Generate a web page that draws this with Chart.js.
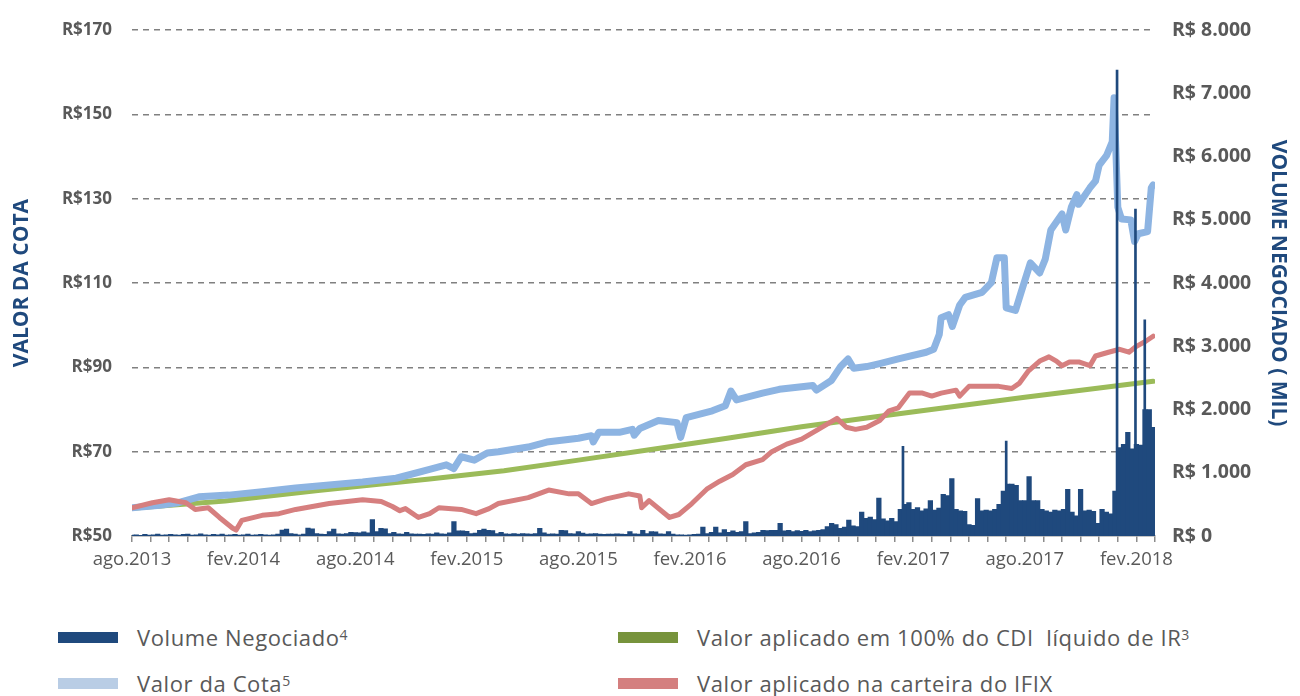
<!DOCTYPE html>
<html>
<head>
<meta charset="utf-8">
<script src="https://cdn.jsdelivr.net/npm/chart.js@4"></script>
<style>
  body { margin: 0; background: #fff; width: 1300px; height: 696px; overflow: hidden; position: relative; font-family: "Open Sans", sans-serif; }
  #chart { position: absolute; left: 0; top: 0; }
  .leg { position: absolute; display: flex; align-items: center; height: 30px; color: #595959; font-size: 22px; letter-spacing: 0.6px; white-space: nowrap; }
  .leg i { display: inline-block; width: 60px; height: 11px; margin-right: 19px; }
  .leg sup { font-size: 14px; position: relative; top: -3px; letter-spacing: 0; }
</style>
</head>
<body>
<canvas id="chart" width="1300" height="610"></canvas>
<div class="leg" style="left:58px;top:622px"><i style="background:#1f497d"></i>Volume Negociado<sup>4</sup></div>
<div class="leg" style="left:58px;top:668px"><i style="background:#b9cde5"></i>Valor da Cota<sup>5</sup></div>
<div class="leg" style="left:618px;top:622px"><i style="background:#77933c"></i>Valor aplicado em 100% do CDI&nbsp; líquido de IR<sup>3</sup></div>
<div class="leg" style="left:618px;top:668px"><i style="background:#d47f7f"></i>Valor aplicado na carteira do IFIX</div>
<script>
// months counted from ago.2013
const xLabels = ['ago.2013', 'fev.2014', 'ago.2014', 'fev.2015', 'ago.2015',
                 'fev.2016', 'ago.2016', 'fev.2017', 'ago.2017', 'fev.2018'];

// weekly traded volume, R$ mil
const volumeMil = [
  15, 20, 10, 25, 15, 20, 30, 15, 20, 25,
  20, 15, 25, 30, 15, 20, 35, 20, 15, 25,
  20, 30, 15, 20, 25, 15, 20, 30, 15, 20,
  25, 20, 15, 20, 30, 95, 110, 40, 30, 20,
  30, 125, 115, 40, 30, 25, 70, 110, 35, 30,
  40, 60, 55, 50, 65, 50, 260, 70, 120, 115,
  40, 60, 35, 30, 60, 35, 30, 30, 25, 35,
  30, 50, 35, 30, 50, 230, 80, 80, 75, 40,
  45, 90, 110, 90, 85, 40, 60, 35, 30, 40,
  30, 40, 35, 30, 40, 120, 50, 30, 35, 30,
  90, 85, 40, 35, 70, 45, 30, 35, 40, 30,
  25, 30, 30, 35, 30, 25, 70, 35, 30, 90,
  40, 70, 65, 35, 30, 70, 30, 20, 20, 15,
  20, 25, 30, 140, 40, 60, 140, 50, 100, 60,
  80, 60, 70, 230, 40, 50, 60, 90, 85, 90,
  90, 200, 80, 90, 70, 85, 75, 90, 70, 80,
  90, 100, 150, 200, 180, 120, 140, 250, 160, 150,
  380, 280, 300, 260, 600, 270, 240, 280, 230, 420,
  500, 530, 420, 450, 400, 430, 560, 410, 440, 660,
  640, 910, 420, 400, 390, 180, 170, 590, 400, 410,
  400, 420, 500, 710, 820, 820, 800, 560, 560, 940,
  560, 560, 420, 400, 380, 410, 400, 420, 740, 380,
  320, 740, 400, 410, 390, 200, 420, 380, 350, 710,
  1400, 1450, 1640, 1380, 1450, 1440, 2000, 2000, 1720
];

// single-day peaks of volume
const spikeMonths = [41.45, 47.0, 52.96, 53.95, 54.45];
const spikeMil = [1420, 1500, 7370, 5170, 3420];

const cotaMonths = [0, 1.5, 2.5, 3.6, 5.2, 7, 8.8, 10.6, 12.4, 14.2, 16, 16.9, 17.3, 17.7, 18.4, 19.1,
  19.7, 21.3, 22.3, 24, 24.7, 24.8, 25.1, 26.2, 26.9, 27, 27.3, 28.3, 29.3, 29.5, 29.8, 31.2,
  31.9, 32.2, 32.5, 33.9, 34.8, 36.6, 36.8, 37.6, 38.1, 38.5, 38.8, 39.5, 40.2, 41.2, 42.7,
  43.1, 43.4, 43.5, 43.9, 44.1, 44.5, 44.8, 45.7, 46.2, 46.5, 46.9, 47, 47.5, 47.8, 48.3,
  48.8, 49.1, 49.4, 50, 50.2, 50.5, 50.8, 50.9, 51.5, 51.8, 52, 52.4, 52.7, 52.8, 53, 53.2,
  53.7, 53.9, 54.1, 54.6, 54.8, 54.9];
const cotaValues = [56.7, 57.3, 57.9, 59.3, 59.7, 60.5, 61.4, 62.1, 62.8, 63.7, 65.8, 66.9, 66, 68.8, 68, 69.7,
  70, 71.1, 72.3, 73.2, 73.8, 72.3, 74.6, 74.6, 75.3, 73.9, 75.5, 77.4, 76.9, 73.4, 78.1, 79.7,
  80.9, 84.4, 82.3, 83.9, 84.8, 85.7, 84.6, 86.9, 90.2, 92, 89.8, 90.2, 90.9, 92, 93.6,
  94.3, 97.8, 101.8, 102.5, 99.7, 104.8, 106.6, 107.8, 110.1, 116, 116, 104.1, 103.5, 107.8, 114.8,
  112.4, 115.7, 122.6, 126.4, 122.6, 128, 131, 128.7, 132.6, 134.2, 138, 140.3, 143.5, 154, 128, 125.2,
  125, 119.9, 121.7, 122.2, 132.6, 133.3];

const ifixMonths = [0, 1.1, 2, 2.9, 3.4, 4.1, 4.7, 5.4, 5.6, 5.9, 7, 7.9, 8.8, 10.6, 12.4, 13.4, 14,
  14.4, 14.7, 15.4, 16, 16.5, 17.7, 18.5, 19.2, 19.7, 21.3, 22.4, 23.5, 24, 24.7, 25.5, 26.7,
  27.3, 27.4, 27.8, 28.9, 29.4, 30.1, 30.9, 31.6, 32.3, 33, 33.9, 34.4, 35.2, 36, 36.9, 37.9,
  38.4, 38.9, 39.5, 40.2, 40.7, 41.2, 41.8, 42.5, 43, 43.5, 44.3, 44.5, 45, 46.6, 47.3, 47.7,
  48.2, 48.8, 49.3, 49.7, 50, 50.4, 50.9, 51.5, 51.8, 52.5, 53.1, 53.6, 54, 54.5, 54.9];
const ifixValues = [56.7, 57.9, 58.6, 57.9, 56.3, 56.7, 54.4, 51.9, 51.4, 53.7, 54.9, 55.3, 56.3, 57.7, 58.6, 58.2, 57,
  56, 56.5, 54.4, 55.3, 56.7, 56.3, 55.3, 56.5, 57.7, 59.1, 60.9, 60, 60, 57.7, 58.8, 60,
  59.5, 56.7, 58.4, 54.4, 55.1, 57.7, 61.1, 63, 64.6, 66.9, 68.1, 70, 71.8, 73, 75.3, 77.9,
  75.8, 75.3, 75.8, 77.4, 79.7, 80.4, 83.9, 83.9, 83.2, 83.9, 84.6, 83.2, 85.5, 85.5, 85, 86.2,
  89.2, 91.5, 92.5, 91.5, 90.4, 91.3, 91.3, 90.4, 92.7, 93.6, 94.3, 93.6, 95, 96.2, 97.4];

const cdiMonths = [0, 5, 10, 16, 20, 24, 28, 32, 36, 40, 44, 48, 52, 54.9];
const cdiValues = [56.6, 58.3, 60.8, 63.5, 65.5, 68, 70.6, 73.2, 75.9, 78.3, 80.6, 82.9, 85.1, 86.7];

const WEEK = 12 / 52;
const FONT = '"Open Sans", sans-serif';
const toPoints = (xs, ys) => xs.map((x, i) => ({ x: x, y: ys[i] }));
const thousands = v => String(v).replace(/\B(?=(\d{3})+(?!\d))/g, '.');

new Chart(document.getElementById('chart'), {
  type: 'line',
  data: {
    datasets: [{
      type: 'bar',
      label: 'Volume Negociado',
      data: volumeMil.map((v, k) => ({ x: k * WEEK, y: v })),
      yAxisID: 'y1',
      backgroundColor: '#1f497d',
      borderWidth: 0,
      barThickness: 4.6,
      grouped: false,
      order: 0
    }, {
      type: 'bar',
      label: 'Volume Negociado (picos)',
      data: toPoints(spikeMonths, spikeMil),
      yAxisID: 'y1',
      backgroundColor: '#1f497d',
      borderWidth: 0,
      barThickness: 2,
      grouped: false,
      order: 0
    }, {
      label: 'Valor aplicado na carteira do IFIX',
      data: toPoints(ifixMonths, ifixValues),
      borderColor: '#d67f7f',
      borderWidth: 5,
      order: 1
    }, {
      label: 'Valor da Cota',
      data: toPoints(cotaMonths, cotaValues),
      borderColor: '#8db4e2',
      borderWidth: 7,
      order: 2
    }, {
      label: 'Valor aplicado em 100% do CDI líquido de IR',
      data: toPoints(cdiMonths, cdiValues),
      borderColor: '#9bbb59',
      borderWidth: 5,
      order: 3
    }]
  },
  options: {
    responsive: false,
    animation: false,
    layout: { padding: { top: 19 } },
    elements: {
      point: { radius: 0 },
      line: { tension: 0, borderJoinStyle: 'round', borderCapStyle: 'round' }
    },
    plugins: { legend: { display: false }, tooltip: { enabled: false } },
    scales: {
      x: {
        type: 'linear',
        min: 0,
        max: 55,
        offset: false,
        afterFit: s => { s.height = 74; },
        afterBuildTicks: s => { s.ticks = Array.from({ length: 56 }, (_, i) => ({ value: i })); },
        grid: { drawOnChartArea: false, tickLength: 6, color: '#8c8c8c', lineWidth: 1.5, offset: false },
        border: { color: '#8c8c8c', width: 1.5 },
        ticks: {
          autoSkip: false,
          maxRotation: 0,
          padding: 7,
          color: '#595959',
          font: { family: FONT, size: 18.5 },
          callback: v => v % 6 === 0 ? xLabels[v / 6] : ''
        }
      },
      y: {
        position: 'left',
        min: 50,
        max: 170,
        afterFit: s => { s.width = 132; },
        grid: {
          drawTicks: false,
          lineWidth: 1.5,
          color: c => c.tick && c.tick.value === 50 ? 'rgba(0,0,0,0)' : '#808080'
        },
        border: { display: false, dash: [6, 5] },
        ticks: {
          stepSize: 20,
          padding: 20,
          color: '#595959',
          font: { family: FONT, size: 17, weight: 'bold' },
          callback: v => 'R$' + v
        },
        title: {
          display: true,
          text: 'VALOR DA COTA',
          color: '#1f497d',
          font: { family: FONT, size: 21, weight: 'bold' },
          padding: { top: 9 }
        }
      },
      y1: {
        position: 'right',
        min: 0,
        max: 8000,
        afterFit: s => { s.width = 145; },
        grid: { display: false, drawTicks: false },
        border: { display: false },
        ticks: {
          stepSize: 1000,
          padding: 17,
          color: '#595959',
          font: { family: FONT, size: 19.5, weight: 'bold' },
          callback: v => 'R$ ' + thousands(v)
        },
        title: {
          display: true,
          text: 'VOLUME NEGOCIADO ( MIL)',
          color: '#1f497d',
          font: { family: FONT, size: 21, weight: 'bold' },
          padding: { top: 9 }
        }
      }
    }
  }
});
</script>
</body>
</html>
